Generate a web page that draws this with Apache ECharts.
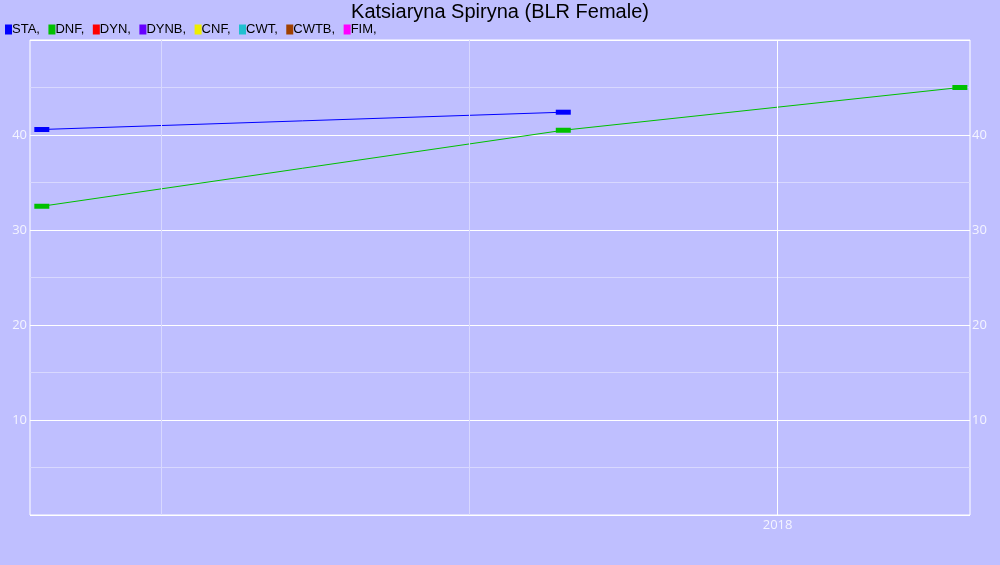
<!DOCTYPE html>
<html><head><meta charset="utf-8">
<script src="https://cdn.jsdelivr.net/npm/echarts@6/dist/echarts.min.js"></script>
<style>html,body{margin:0;padding:0;background:#bfbfff}#c{width:1000px;height:565px}</style>
</head><body><div id="c"></div>
<script>
const disciplines = ['STA','DNF','DYN','DYNB','CNF','CWT','CWTB','FIM'];
const colors = ['#0000ff','#00c000','#ff0000','#6600ff','#eeee00','#20c0d0','#a04000','#ff00ff'];
const staDates = ['2016-10-22','2017-08-27'];
const staValues = [40.58, 42.4];
const dnfDates = ['2016-10-22','2017-08-27','2018-04-19'];
const dnfValues = [32.5, 40.5, 45.0];
const xMinDate = '2016-10-15';
const xMaxDate = '2018-04-25';
const minorXLines = ['2017-01-01','2017-07-02T12:00'];
const majorXLines = ['2018-01-01'];
const yTicks = [10,20,30,40];

const ts = d => Date.parse(d.length > 10 ? d + ':00Z' : d + 'T00:00:00Z');
const seriesData = {
  STA: staDates.map((d,i)=>[ts(d), staValues[i]]),
  DNF: dnfDates.map((d,i)=>[ts(d), dnfValues[i]])
};

const series = [{
  type:'line', data:[], z:1, silent:true,
  markLine:{silent:true, symbol:'none', animation:false,
    label:{show:false},
    data:[
      ...minorXLines.map(d=>({xAxis:ts(d), lineStyle:{color:'#d8d8ff',width:1,type:'solid'}})),
      ...majorXLines.map(d=>({xAxis:ts(d), lineStyle:{color:'#ffffff',width:1,type:'solid'}}))
    ]}
}];
disciplines.forEach((name,i)=>{
  series.push({
    name, type:'line', z:3,
    data: seriesData[name] || [],
    color: colors[i],
    symbol:'rect', symbolSize:[15,5], showSymbol:true,
    lineStyle:{width:1, color:colors[i]},
    itemStyle:{color:colors[i]},
    animation:false
  });
});

const chart = echarts.init(document.getElementById('c'), null, {renderer:'canvas'});
chart.setOption({
  backgroundColor:'#bfbfff',
  animation:false,
  title:{text:'Katsiaryna Spiryna (BLR Female)', left:'center', top:-3,
    textStyle:{fontFamily:'Liberation Sans', fontSize:20, fontWeight:'normal', color:'#000'}},
  legend:{left:0, top:18, itemWidth:7, itemHeight:10, itemGap:8.5, icon:'rect',
    data:disciplines,
    formatter: n => n + ',',
    textStyle:{fontFamily:'Liberation Sans', fontSize:13, color:'#000', padding:[0,0,0,-5]}},
  grid:{left:30, right:30, top:40, bottom:50, show:true, borderColor:'#ffffff', borderWidth:1, backgroundColor:'transparent'},
  xAxis:{type:'value', min:ts(xMinDate), max:ts(xMaxDate),
    axisLine:{show:false}, axisTick:{show:false}, splitLine:{show:false},
    axisLabel:{customValues: majorXLines.map(ts), formatter: v => String(new Date(v).getUTCFullYear()),
      color:'#f4f4ff', fontFamily:'Open Sans', fontSize:13, margin:4}},
  yAxis:[{type:'value', min:0, max:50, interval:10, position:'left',
    axisLine:{show:false}, axisTick:{show:false},
    splitLine:{show:true, lineStyle:{color:'#ffffff', width:1}},
    minorTick:{show:false, splitNumber:2},
    minorSplitLine:{show:true, lineStyle:{color:'#d8d8ff', width:1}},
    axisLabel:{formatter: v => yTicks.includes(v) ? String(v) : '', color:'#f4f4ff', fontFamily:'Open Sans', fontSize:13, margin:3}},
   {type:'value', min:0, max:50, interval:10, position:'right',
    axisLine:{show:false}, axisTick:{show:false}, splitLine:{show:false},
    axisLabel:{formatter: v => yTicks.includes(v) ? String(v) : '', color:'#f4f4ff', fontFamily:'Open Sans', fontSize:13, margin:2}}],
  series
});
</script></body></html>
